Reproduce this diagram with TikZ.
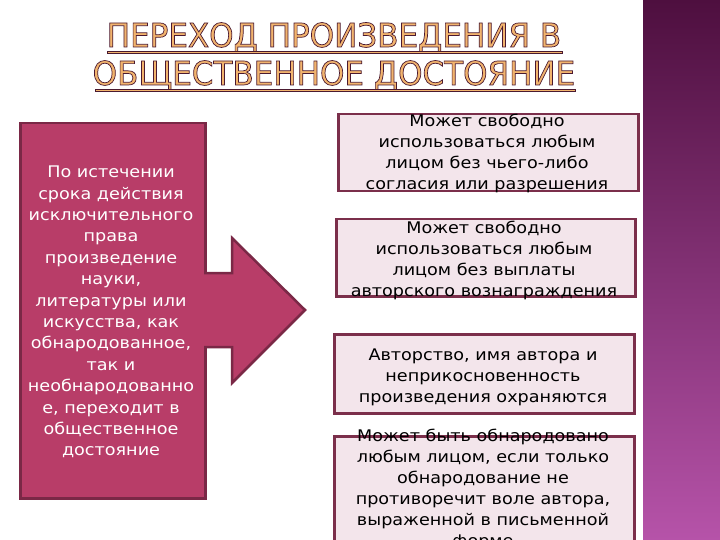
\documentclass[tikz,border=0pt]{standalone}
\usepackage{fontspec}
\setmainfont[FakeStretch=1.1]{DejaVu Sans}
\newfontfamily\titlefont[FakeStretch=1.045]{DejaVu Sans Condensed}
\definecolor{bandtop}{HTML}{4E0F3F}
\definecolor{bandbot}{HTML}{B653A9}
\definecolor{leftfill}{HTML}{B83D68}
\definecolor{leftdraw}{HTML}{7A2846}
\definecolor{boxfill}{HTML}{F3E5EB}
\definecolor{boxdraw}{HTML}{7B2F4B}
\definecolor{titlefill}{HTML}{F2B46E}
\definecolor{titleline}{HTML}{4A1A30}
\tikzset{
  rbox/.style={draw=boxdraw, line width=2.5pt, fill=boxfill, inner sep=0pt, anchor=north west},
  rtext/.style={align=center, inner sep=0pt, text=black, font=\fontsize{16}{21}\selectfont},
  ltext/.style={align=center, inner sep=0pt, text=white, font=\fontsize{16}{21.4}\selectfont},
  titletext/.style={anchor=base, inner sep=0pt, text=titlefill, font=\titlefont\fontsize{33}{40}\selectfont},
  uline/.style={fill=titlefill, draw=titleline, line width=0.6pt}
}
\newcommand{\outl}{\special{pdf:literal direct 2 Tr 0.7 w 0.29 0.10 0.19 RG}}
\begin{document}
\begin{tikzpicture}[x=1pt,y=-1pt]
\useasboundingbox (0,0) rectangle (720,540);
\clip (0,0) rectangle (720,540);
\fill[white] (0,0) rectangle (720,540);
% side band
\shade[top color=bandtop, bottom color=bandbot] (643,0) rectangle (720,540);
% title
\node[titletext] (t1) at (334,47) {\outl ПЕРЕХОД ПРОИЗВЕДЕНИЯ В};
\node[titletext] (t2) at (334,85) {\outl ОБЩЕСТВЕННОЕ ДОСТОЯНИЕ};
\fill[uline] (107,51) rectangle (562,53.5);
\fill[uline] (95,89) rectangle (575,91.5);
% left box and arrow
\node[draw=leftdraw, line width=2.5pt, fill=leftfill, minimum width=185pt, minimum height=375pt, inner sep=0pt, anchor=north west] (lb) at (19,122) {};
\path[fill=leftfill, draw=leftdraw, line width=2.5pt, line join=miter]
  (204,273) -- (232,273) -- (232,238) -- (305,310) -- (232,383) -- (232,347) -- (204,347);
\node[ltext] (lt) at (111,312) {По истечении\\срока действия\\исключительного\\права\\произведение\\науки,\\литературы или\\искусства, как\\обнародованное,\\так и\\необнародованно\\е, переходит в\\общественное\\достояние};
% right boxes
\node[rbox, minimum width=300pt, minimum height=77pt] (b1) at (337,113) {};
\node[rbox, minimum width=299pt, minimum height=77pt] (b2) at (335,218) {};
\node[rbox, minimum width=300pt, minimum height=79pt] (b3) at (333,333) {};
\node[rbox, minimum width=300pt, minimum height=113pt] (b4) at (333,435) {};
\node[rtext] (x1) at (487,153) {Может свободно\\использоваться любым\\лицом без чьего-либо\\согласия или разрешения};
\node[rtext] (x2) at (484,260) {Может свободно\\использоваться любым\\лицом без выплаты\\авторского вознаграждения};
\node[rtext] (x3) at (483,377) {Авторство, имя автора и\\неприкосновенность\\произведения охраняются};
\node[rtext] (x4) at (483,489) {Может быть обнародовано\\любым лицом, если только\\обнародование не\\противоречит воле автора,\\выраженной в письменной\\форме};
\end{tikzpicture}
\end{document}
